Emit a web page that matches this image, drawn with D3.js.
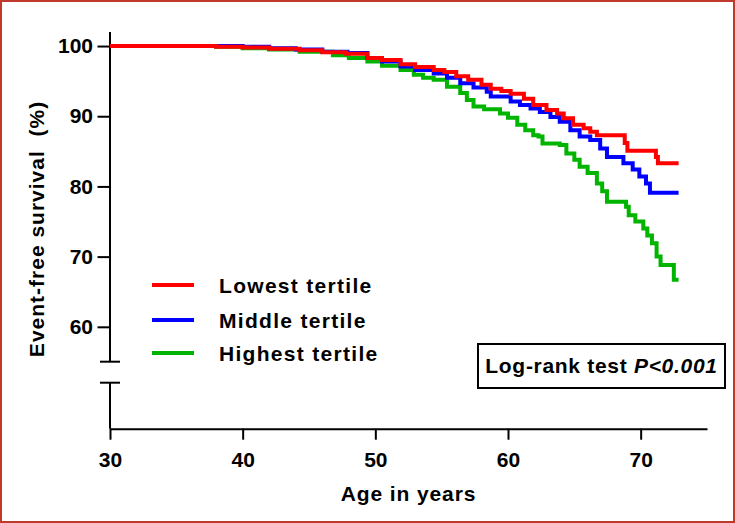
<!DOCTYPE html>
<html>
<head>
<meta charset="utf-8">
<script src="https://d3js.org/d3.v7.min.js"></script>
<style>
  html, body { margin: 0; padding: 0; background: #fff; }
  svg { display: block; }
  text { font-family: "Liberation Sans", Arial, sans-serif; font-weight: bold; fill: #000; }
</style>
</head>
<body>
<svg id="chart" width="735" height="523"></svg>
<script>
// ---- Data ----
const seriesNames = ["Lowest tertile", "Middle tertile", "Highest tertile"];
const seriesColors = ["#ff0000", "#0000ff", "#00b400"];

// Kaplan-Meier step points: [age, event-free survival %]
const lowestTertile = [
  [30, 100], [36, 100], [38, 99.9], [40, 99.8], [42, 99.6], [44.3, 99.4], [46, 99.1],
  [47.8, 98.9], [49.4, 98.3], [50.5, 98.0], [51.9, 97.4], [53, 97.0], [54.4, 96.6],
  [55.2, 96.3], [56.1, 95.7], [57, 95.2], [58, 94.5], [58.7, 93.9], [59.5, 93.6],
  [60.2, 93.2], [61.2, 92.5], [61.9, 91.6], [62.9, 90.9], [63.7, 90.4], [64.2, 89.7],
  [64.9, 88.8], [65.7, 88.3], [66.2, 87.8], [66.7, 87.3], [68.8, 86.2], [69.0, 85.1],
  [71.15, 84.2], [71.3, 83.3], [72.86, 83.3]
];
const middleTertile = [
  [30, 100], [38, 100], [40, 99.9], [42, 99.7], [44, 99.5], [46, 99.2], [47.9, 99.0],
  [49.4, 98.3], [50.5, 97.8], [51.9, 97.1], [53, 96.6], [54.4, 96.1], [55.4, 95.5],
  [56.4, 94.7], [57.4, 94.1], [58.4, 93.5], [58.7, 92.8], [60.2, 92.1], [60.9, 91.6],
  [61.7, 91.1], [62.4, 90.6], [63.2, 89.9], [63.9, 89.2], [64.7, 88.0], [65.4, 87.1],
  [66.2, 86.6], [66.95, 85.4], [67.46, 84.2], [68.7, 83.3], [69.4, 82.4], [69.9, 81.4],
  [70.4, 80.4], [70.7, 79.1], [72.86, 79.1]
];
const highestTertile = [
  [30, 100], [38, 99.9], [40, 99.7], [42, 99.5], [44.3, 99.2], [46.8, 98.7], [48, 98.3],
  [49.4, 97.8], [50.5, 97.2], [51.9, 96.6], [52.9, 95.9], [53.6, 95.5], [54.4, 95.2],
  [55.4, 94.2], [56.4, 93.3], [56.9, 92.3], [57.4, 91.4], [58.2, 91.0], [59.4, 90.4],
  [60.0, 89.8], [60.7, 88.8], [61.3, 88.0], [61.9, 87.3], [62.3, 87.1], [62.6, 86.1],
  [63.9, 85.9], [64.4, 84.7], [65.0, 83.8], [65.4, 82.8], [66.0, 81.9], [66.7, 80.4],
  [67.1, 79.3], [67.46, 77.8], [68.9, 77.1], [69.1, 75.9], [69.6, 75.0], [70.2, 74.0],
  [70.5, 73.0], [70.85, 71.9], [71.2, 70.0], [71.5, 68.8], [72.5, 66.7], [72.86, 66.7]
];
const seriesData = [lowestTertile, middleTertile, highestTertile];

const xTicks = [30, 40, 50, 60, 70];
const yTicks = [60, 70, 80, 90, 100];
const xTitle = "Age in years";
const yTitle = "Event-free survival\u00a0\u00a0(%)";
const testLabel = "Log-rank test ";
const testP = "P<0.001";

// ---- Layout ----
const svg = d3.select("#chart");
const W = 735, H = 523;
const x = d3.scaleLinear().domain([30, 75]).range([110, 707]);
const y = d3.scaleLinear().domain([55.03, 102]).range([361.7, 32]);
const xAxisY = 428.7;
const lowerTop = 382.7;

// frame
svg.append("rect").attr("x", 1).attr("y", 1).attr("width", W - 2).attr("height", H - 2)
  .attr("fill", "none").attr("stroke", "#c0392b").attr("stroke-width", 2);

// y axis (upper segment)
const yAxis = svg.append("g").attr("transform", `translate(${x(30)},0)`)
  .call(d3.axisLeft(y).tickValues(yTicks).tickSize(12.5).tickPadding(4.5));
yAxis.select(".domain").remove();
yAxis.selectAll(".tick line").attr("stroke", "#000").attr("stroke-width", 2);
yAxis.selectAll(".tick text").style("font-size", "21px").style("font-family", "'Liberation Sans', Arial, sans-serif").style("font-weight", "bold");

const ax = svg.append("g").attr("stroke", "#000").attr("stroke-width", 2).attr("fill", "none");
// upper axis line with break cap
ax.append("line").attr("x1", x(30)).attr("x2", x(30)).attr("y1", y(102)).attr("y2", y(55.03));
ax.append("line").attr("x1", x(30) - 10).attr("x2", x(30) + 10).attr("y1", y(55.03)).attr("y2", y(55.03));
// lower axis line with break cap
ax.append("line").attr("x1", x(30)).attr("x2", x(30)).attr("y1", lowerTop).attr("y2", xAxisY);
ax.append("line").attr("x1", x(30) - 10).attr("x2", x(30) + 10).attr("y1", lowerTop).attr("y2", lowerTop);

// x axis
const xAxis = svg.append("g").attr("transform", `translate(0,${xAxisY})`)
  .call(d3.axisBottom(x).tickValues(xTicks).tickSize(11).tickPadding(12.3).tickSizeOuter(0));
xAxis.select(".domain").attr("stroke", "#000").attr("stroke-width", 2);
xAxis.selectAll(".tick line").attr("stroke", "#000").attr("stroke-width", 2);
xAxis.selectAll(".tick text").style("font-size", "21px").style("font-family", "'Liberation Sans', Arial, sans-serif").style("font-weight", "bold");

// axis titles
svg.append("text").attr("x", (x(30) + x(75)) / 2).attr("y", 501)
  .attr("text-anchor", "middle").style("font-size", "21px").style("letter-spacing", "0.9px")
  .text(xTitle);
svg.append("text").attr("transform", `translate(44,229) rotate(-90)`)
  .attr("text-anchor", "middle").style("font-size", "21px").style("letter-spacing", "1px")
  .text(yTitle);

// curves
const line = d3.line().x(d => x(d[0])).y(d => y(d[1])).curve(d3.curveStepAfter);
const order = [2, 1, 0];
svg.append("g").selectAll("path").data(order).join("path")
  .attr("d", i => line(seriesData[i]))
  .attr("fill", "none")
  .attr("stroke", i => seriesColors[i])
  .attr("stroke-width", 4)
  .attr("stroke-linejoin", "miter");

// legend
const leg = svg.append("g");
const legY = [285, 320, 353];
seriesNames.forEach((name, i) => {
  leg.append("line").attr("x1", 152).attr("x2", 194).attr("y1", legY[i]).attr("y2", legY[i])
    .attr("stroke", seriesColors[i]).attr("stroke-width", 4);
  leg.append("text").attr("x", 219).attr("y", legY[i] + 8).style("font-size", "21px")
    .style("letter-spacing", "1.3px").text(name);
});

// log-rank box
svg.append("rect").attr("x", 478).attr("y", 344).attr("width", 247).attr("height", 44)
  .attr("fill", "#fff").attr("stroke", "#000").attr("stroke-width", 2);
const t = svg.append("text").attr("x", 601.5).attr("y", 373).attr("text-anchor", "middle")
  .style("font-size", "21px").style("letter-spacing", "0.7px");
t.append("tspan").text(testLabel);
t.append("tspan").style("font-style", "italic").text(testP);
</script>
</body>
</html>
